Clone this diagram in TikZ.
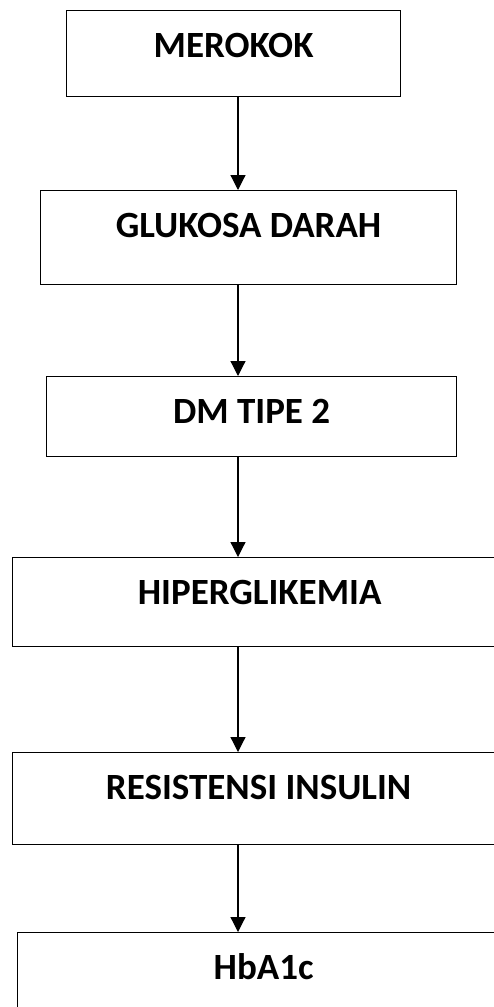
\documentclass[tikz,border=0pt]{standalone}
\usepackage{fontspec}
\setmainfont{Carlito}
\usetikzlibrary{arrows.meta, positioning}
\tikzset{
  box/.style={
    rectangle, draw, line width=1.2pt, fill=white,
    anchor=north west, inner sep=0pt, text centered,
    text height=47pt,
    font=\fontsize{37}{44}\selectfont\bfseries
  },
  arr/.style={-{Triangle[length=15pt, width=15pt]}, line width=1.2pt},
}

\begin{document}
\begin{tikzpicture}[x=1pt, y=-1pt]

  \clip (0,0) rectangle (494,1007);

  % ── nodes ─────────────────────────────────────────────────────────────────
  \node[box, minimum width=334pt, text depth=39pt] (merokok) at (66,10)  {MEROKOK};
  \node[box, minimum width=416pt, text depth=47pt] (glukosa) at (40,190) {GLUKOSA DARAH};
  \node[box, minimum width=410pt, text depth=33pt] (dm)      at (46,376) {DM TIPE 2};
  \node[box, minimum width=494pt, text depth=42pt] (hiper)   at (12,557) {HIPERGLIKEMIA};
  \node[box, minimum width=492pt, text depth=45pt] (resist)  at (12,752) {RESISTENSI INSULIN};
  \node[box, minimum width=492pt, text depth=45pt] (hba)     at (17,932) {HbA1c};

  \coordinate (axis) at (238,0);

  % ── edges ─────────────────────────────────────────────────────────────────
  \draw[arr] (merokok.south -| axis) -- (glukosa.north -| axis);
  \draw[arr] (glukosa.south -| axis) -- (dm.north -| axis);
  \draw[arr] (dm.south -| axis)      -- (hiper.north -| axis);
  \draw[arr] (hiper.south -| axis)   -- (resist.north -| axis);
  \draw[arr] (resist.south -| axis)  -- (hba.north -| axis);

\end{tikzpicture}
\end{document}
